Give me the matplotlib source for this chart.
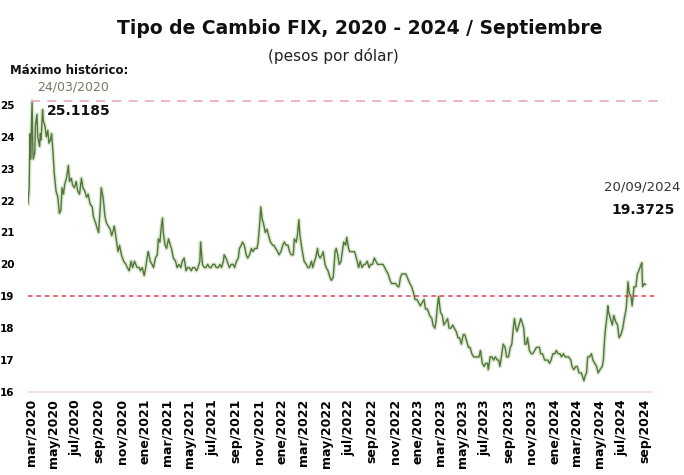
import numpy as np
import pandas as pd
import matplotlib
matplotlib.use("Agg")
from matplotlib import pyplot as plt

# FIX exchange rate (pesos per dollar), roughly twice a week
fechas_2020 = ["2020-03-13", "2020-03-16", "2020-03-18", "2020-03-19", "2020-03-20", "2020-03-23", "2020-03-24",
               "2020-03-26", "2020-03-27", "2020-03-31", "2020-04-02", "2020-04-06", "2020-04-08", "2020-04-13",
               "2020-04-15", "2020-04-17", "2020-04-21", "2020-04-23", "2020-04-28", "2020-05-01", "2020-05-05",
               "2020-05-08", "2020-05-12", "2020-05-15", "2020-05-19", "2020-05-22", "2020-05-27", "2020-06-01",
               "2020-06-05", "2020-06-09", "2020-06-12", "2020-06-16", "2020-06-19", "2020-06-24", "2020-06-29",
               "2020-07-02", "2020-07-07", "2020-07-10", "2020-07-15", "2020-07-20", "2020-07-24", "2020-07-29",
               "2020-08-03", "2020-08-07", "2020-08-12", "2020-08-17", "2020-08-21", "2020-08-26", "2020-09-01",
               "2020-09-04", "2020-09-10", "2020-09-15", "2020-09-18", "2020-09-23", "2020-09-25", "2020-09-30",
               "2020-10-05", "2020-10-09", "2020-10-14", "2020-10-19", "2020-10-23", "2020-10-28", "2020-10-30",
               "2020-11-04", "2020-11-09", "2020-11-13", "2020-11-18", "2020-11-24", "2020-11-30", "2020-12-04",
               "2020-12-09", "2020-12-14", "2020-12-18", "2020-12-23", "2020-12-30"]
tc_2020 = [21.9, 22.4, 23.9, 24.1, 23.3, 24.7, 25.1185,
           23.6, 23.3, 23.5, 24.4, 24.7, 24.0, 23.7,
           24.1, 23.9, 24.85, 24.5, 24.3, 24.0, 24.2,
           23.8, 23.9, 24.1, 23.5, 22.9, 22.3, 22.1,
           21.6, 21.7, 22.4, 22.2, 22.5, 22.7, 23.1,
           22.6, 22.7, 22.5, 22.4, 22.6, 22.3, 22.2,
           22.7, 22.4, 22.3, 22.1, 22.2, 21.9, 21.8,
           21.5, 21.3, 21.1, 21.0, 21.9, 22.4, 22.1,
           21.5, 21.3, 21.2, 21.1, 20.9, 21.1, 21.2,
           20.8, 20.4, 20.6, 20.3, 20.1, 20.0, 19.9,
           19.8, 20.1, 19.9, 20.1, 19.9]

fechas_2021 = ["2021-01-05", "2021-01-08", "2021-01-13", "2021-01-18", "2021-01-22", "2021-01-27", "2021-01-29",
               "2021-02-03", "2021-02-08", "2021-02-12", "2021-02-17", "2021-02-22", "2021-02-25", "2021-03-01",
               "2021-03-05", "2021-03-08", "2021-03-10", "2021-03-15", "2021-03-19", "2021-03-24", "2021-03-29",
               "2021-04-01", "2021-04-06", "2021-04-12", "2021-04-16", "2021-04-21", "2021-04-26", "2021-04-30",
               "2021-05-05", "2021-05-10", "2021-05-14", "2021-05-19", "2021-05-24", "2021-05-28", "2021-06-02",
               "2021-06-07", "2021-06-11", "2021-06-16", "2021-06-18", "2021-06-23", "2021-06-28", "2021-07-02",
               "2021-07-07", "2021-07-12", "2021-07-16", "2021-07-21", "2021-07-26", "2021-07-30", "2021-08-04",
               "2021-08-09", "2021-08-13", "2021-08-18", "2021-08-20", "2021-08-25", "2021-08-31", "2021-09-03",
               "2021-09-08", "2021-09-13", "2021-09-17", "2021-09-22", "2021-09-27", "2021-09-30", "2021-10-05",
               "2021-10-08", "2021-10-13", "2021-10-18", "2021-10-22", "2021-10-27", "2021-11-01", "2021-11-05",
               "2021-11-10", "2021-11-16", "2021-11-19", "2021-11-24", "2021-11-26", "2021-11-30", "2021-12-03",
               "2021-12-08", "2021-12-13", "2021-12-17", "2021-12-22", "2021-12-28", "2021-12-31"]
tc_2021 = [19.9, 19.8, 19.9, 19.65, 19.9, 20.3, 20.4,
           20.1, 20.0, 19.9, 20.2, 20.3, 20.8, 20.7,
           21.2, 21.45, 21.0, 20.6, 20.5, 20.8, 20.6,
           20.5, 20.2, 20.1, 19.9, 20.0, 19.9, 20.1,
           20.2, 19.8, 19.9, 19.9, 19.8, 19.9, 19.9,
           19.8, 19.9, 20.1, 20.7, 20.0, 19.9, 19.9,
           20.0, 19.9, 19.9, 20.0, 20.0, 19.9, 19.9,
           20.0, 19.9, 20.1, 20.3, 20.2, 20.0, 19.9,
           20.0, 20.0, 19.9, 20.1, 20.2, 20.5, 20.6,
           20.7, 20.6, 20.3, 20.2, 20.3, 20.5, 20.4,
           20.5, 20.5, 20.7, 21.4, 21.8, 21.4, 21.3,
           21.0, 21.1, 20.9, 20.7, 20.6, 20.6]

fechas_2022 = ["2022-01-05", "2022-01-10", "2022-01-14", "2022-01-19", "2022-01-24", "2022-01-28", "2022-02-02",
               "2022-02-07", "2022-02-11", "2022-02-16", "2022-02-21", "2022-02-24", "2022-03-01", "2022-03-04",
               "2022-03-08", "2022-03-11", "2022-03-16", "2022-03-22", "2022-03-28", "2022-04-01", "2022-04-05",
               "2022-04-11", "2022-04-14", "2022-04-19", "2022-04-22", "2022-04-27", "2022-04-29", "2022-05-04",
               "2022-05-09", "2022-05-12", "2022-05-17", "2022-05-20", "2022-05-25", "2022-05-30", "2022-06-03",
               "2022-06-08", "2022-06-13", "2022-06-16", "2022-06-20", "2022-06-24", "2022-06-29", "2022-07-01",
               "2022-07-06", "2022-07-11", "2022-07-14", "2022-07-19", "2022-07-22", "2022-07-27", "2022-08-01",
               "2022-08-04", "2022-08-09", "2022-08-15", "2022-08-19", "2022-08-24", "2022-08-29", "2022-09-02",
               "2022-09-07", "2022-09-12", "2022-09-16", "2022-09-21", "2022-09-26", "2022-09-30", "2022-10-05",
               "2022-10-10", "2022-10-14", "2022-10-19", "2022-10-24", "2022-10-28", "2022-11-02", "2022-11-07",
               "2022-11-11", "2022-11-16", "2022-11-22", "2022-11-28", "2022-12-01", "2022-12-05", "2022-12-09",
               "2022-12-14", "2022-12-19", "2022-12-23", "2022-12-30"]
tc_2022 = [20.5, 20.4, 20.3, 20.4, 20.6, 20.7, 20.6,
           20.6, 20.4, 20.3, 20.3, 20.8, 20.7, 20.9,
           21.4, 20.9, 20.5, 20.1, 20.0, 19.9, 19.9,
           20.1, 19.9, 20.1, 20.2, 20.5, 20.3, 20.2,
           20.3, 20.4, 20.0, 19.9, 19.8, 19.6, 19.5,
           19.6, 20.4, 20.5, 20.3, 20.0, 20.1, 20.3,
           20.7, 20.6, 20.85, 20.5, 20.4, 20.4, 20.4,
           20.4, 20.2, 19.9, 20.1, 19.9, 20.0, 20.0,
           20.1, 19.9, 20.0, 20.0, 20.2, 20.1, 20.0,
           20.0, 20.0, 20.0, 19.9, 19.8, 19.7, 19.5,
           19.4, 19.4, 19.4, 19.3, 19.3, 19.6, 19.7,
           19.7, 19.7, 19.6, 19.4]

fechas_2023 = ["2023-01-04", "2023-01-09", "2023-01-13", "2023-01-18", "2023-01-23", "2023-01-27", "2023-02-01",
               "2023-02-06", "2023-02-10", "2023-02-15", "2023-02-21", "2023-02-27", "2023-03-02", "2023-03-07",
               "2023-03-10", "2023-03-14", "2023-03-17", "2023-03-22", "2023-03-27", "2023-03-31", "2023-04-05",
               "2023-04-10", "2023-04-14", "2023-04-19", "2023-04-24", "2023-04-28", "2023-05-03", "2023-05-08",
               "2023-05-12", "2023-05-17", "2023-05-22", "2023-05-26", "2023-05-31", "2023-06-05", "2023-06-09",
               "2023-06-14", "2023-06-19", "2023-06-23", "2023-06-28", "2023-07-03", "2023-07-07", "2023-07-12",
               "2023-07-17", "2023-07-21", "2023-07-26", "2023-07-28", "2023-08-02", "2023-08-07", "2023-08-11",
               "2023-08-16", "2023-08-21", "2023-08-25", "2023-08-28", "2023-09-01", "2023-09-06", "2023-09-11",
               "2023-09-15", "2023-09-20", "2023-09-25", "2023-09-29", "2023-10-03", "2023-10-06", "2023-10-10",
               "2023-10-13", "2023-10-18", "2023-10-23", "2023-10-26", "2023-10-31", "2023-11-03", "2023-11-07",
               "2023-11-10", "2023-11-15", "2023-11-20", "2023-11-24", "2023-11-29", "2023-12-04", "2023-12-07",
               "2023-12-12", "2023-12-15", "2023-12-20", "2023-12-26", "2023-12-29"]
tc_2023 = [19.3, 19.1, 18.9, 18.9, 18.8, 18.7, 18.8,
           18.9, 18.6, 18.6, 18.4, 18.3, 18.1, 18.0,
           18.2, 18.7, 19.0, 18.5, 18.4, 18.1, 18.2,
           18.3, 18.0, 18.0, 18.1, 18.0, 17.9, 17.7,
           17.7, 17.5, 17.8, 17.8, 17.6, 17.4, 17.4,
           17.2, 17.1, 17.1, 17.1, 17.1, 17.3, 16.9,
           16.8, 16.9, 16.9, 16.7, 17.1, 17.1, 17.0,
           17.1, 17.0, 17.0, 16.8, 17.1, 17.5, 17.4,
           17.1, 17.1, 17.4, 17.5, 18.0, 18.3, 18.0,
           17.9, 18.1, 18.3, 18.2, 18.0, 17.5, 17.5,
           17.7, 17.3, 17.2, 17.2, 17.3, 17.4, 17.4,
           17.4, 17.2, 17.2, 17.0, 17.0]

fechas_2024 = ["2024-01-03", "2024-01-08", "2024-01-12", "2024-01-17", "2024-01-22", "2024-01-26", "2024-01-31",
               "2024-02-05", "2024-02-09", "2024-02-14", "2024-02-19", "2024-02-23", "2024-02-28", "2024-03-05",
               "2024-03-08", "2024-03-13", "2024-03-18", "2024-03-22", "2024-03-27", "2024-04-02", "2024-04-05",
               "2024-04-09", "2024-04-12", "2024-04-16", "2024-04-19", "2024-04-24", "2024-04-29", "2024-05-03",
               "2024-05-08", "2024-05-13", "2024-05-17", "2024-05-22", "2024-05-28", "2024-05-31", "2024-06-03",
               "2024-06-05", "2024-06-10", "2024-06-12", "2024-06-14", "2024-06-19", "2024-06-24", "2024-06-28",
               "2024-07-03", "2024-07-08", "2024-07-12", "2024-07-17", "2024-07-22", "2024-07-26", "2024-07-31",
               "2024-08-02", "2024-08-05", "2024-08-08", "2024-08-13", "2024-08-16", "2024-08-21", "2024-08-26",
               "2024-08-30", "2024-09-03", "2024-09-06", "2024-09-09", "2024-09-11", "2024-09-13", "2024-09-18",
               "2024-09-20"]
tc_2024 = [17.0, 16.9, 17.0, 17.2, 17.2, 17.3, 17.2,
           17.2, 17.1, 17.2, 17.1, 17.1, 17.1, 17.0,
           16.8, 16.7, 16.8, 16.8, 16.6, 16.6, 16.5,
           16.35, 16.5, 16.6, 17.1, 17.1, 17.2, 17.0,
           16.9, 16.8, 16.6, 16.7, 16.8, 17.0, 17.6,
           17.9, 18.4, 18.7, 18.5, 18.3, 18.1, 18.4,
           18.2, 18.1, 17.7, 17.8, 18.0, 18.3, 18.6,
           18.9, 19.45, 19.1, 19.0, 18.7, 19.3, 19.3,
           19.7, 19.8, 19.9, 20.0, 20.05, 19.3, 19.4,
           19.3725]

maximo = 25.1185
ultimo = 19.3725
referencia = 19.0

yticks = [16, 17, 18, 19, 20, 21, 22, 23, 24, 25]
meses = ["ene", "feb", "mar", "abr", "may", "jun", "jul", "ago", "sep", "oct", "nov", "dic"]

fechas = pd.to_datetime(fechas_2020 + fechas_2021 + fechas_2022 + fechas_2023 + fechas_2024)
tc = np.array(tc_2020 + tc_2021 + tc_2022 + tc_2023 + tc_2024)

# ticks every two months, on the 20th (day of the last observation)
tick_fechas = pd.date_range("2020-03-01", "2024-09-01", freq="2MS") + pd.Timedelta(days=19)
tick_labels = [f"{meses[d.month - 1]}/{d.year}" for d in tick_fechas]

W, H = 684, 475
fig = plt.figure(figsize=(W / 100, H / 100), dpi=100)
ax = fig.add_axes([28 / W, 1 - 392 / H, (665 - 28) / W, 297 / H])

x0 = pd.Timestamp("2020-03-13")
x1 = x0 + pd.Timedelta(days=1705)
ax.set_xlim(x0, x1)
ax.set_ylim(16, 25.31)

# glow + line
ax.plot(fechas, tc, color="#9cc27e", lw=3.0, alpha=0.35, solid_joinstyle="round")
ax.plot(fechas, tc, color="#52753a", lw=1.0, solid_joinstyle="round")

ax.hlines(maximo, x0 + pd.Timedelta(days=8), x1, color="#eab3b8", lw=1.3, linestyles=(0, (5, 4)))
ax.hlines(referencia, x0, x0 + pd.Timedelta(days=1684), color="#d9434f", lw=1.1, linestyles=(0, (3, 2.5)))
ax.hlines(16, x0, x0 + pd.Timedelta(days=1671), color="#f1dce0", lw=1.2, clip_on=False)

for s in ax.spines.values():
    s.set_visible(False)

ax.set_yticks(yticks)
ax.set_yticklabels([str(v) for v in yticks], fontsize=7.5, fontweight="bold")
ax.set_xticks(tick_fechas)
ax.set_xticklabels(tick_labels, rotation=90, fontsize=9, fontweight="bold")
ax.tick_params(axis="x", length=0, pad=5)
ax.tick_params(axis="y", length=0, pad=0)
for lab in ax.get_yticklabels():
    lab.set_horizontalalignment("left")
    lab.set_x(-28 / (665 - 28))

def px(x, y):
    return x / W, 1 - y / H

fig.text(*px(360, 28), "Tipo de Cambio FIX, 2020 - 2024 / Septiembre", ha="center", va="center",
         fontsize=13.5, fontweight="bold", color="#111111")
fig.text(*px(333, 56), "(pesos por dólar)", ha="center", va="center", fontsize=11, color="#222222")
fig.text(*px(10, 70), "Máximo histórico:", ha="left", va="center", fontsize=8.5, fontweight="bold",
         color="#111111")
fig.text(*px(37, 87), "24/03/2020", ha="left", va="center", fontsize=9, color="#7b7665")
fig.text(*px(47, 111), "25.1185", ha="left", va="center", fontsize=10, fontweight="bold", color="#111111")
fig.text(*px(642, 187), "20/09/2024", ha="center", va="center", fontsize=9.5, color="#333333")
fig.text(*px(643, 210), "19.3725", ha="center", va="center", fontsize=10, fontweight="bold", color="#111111")

fig.savefig("out.png", dpi=100, facecolor="white")
